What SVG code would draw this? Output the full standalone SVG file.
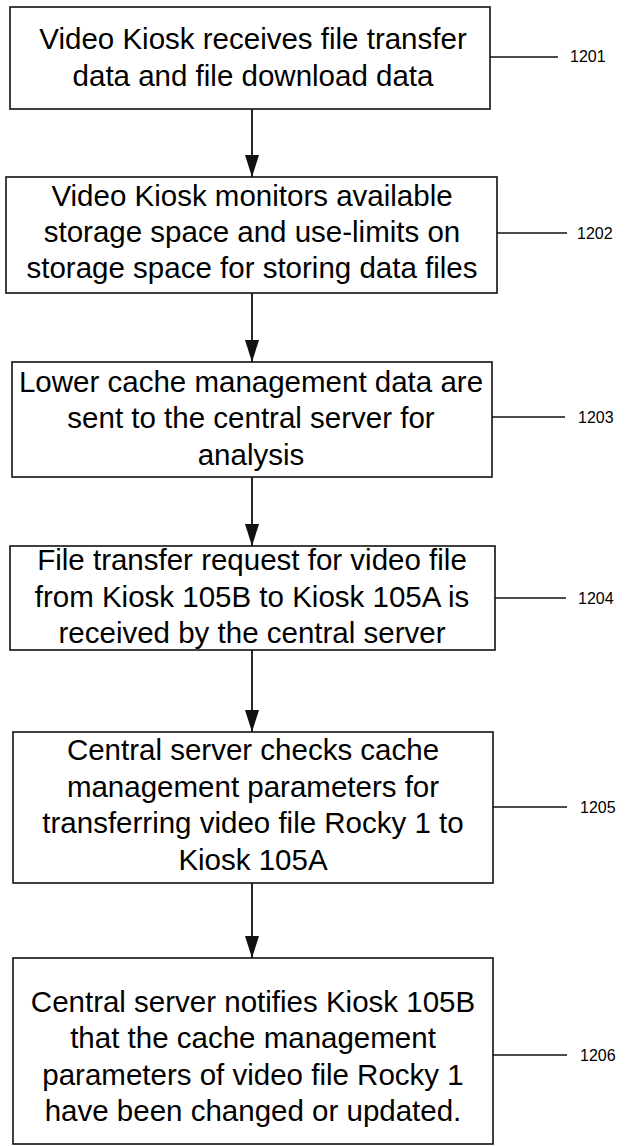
<svg xmlns="http://www.w3.org/2000/svg" width="627" height="1146" viewBox="0 0 627 1146">
<style>
.box{fill:#fff;stroke:#111;stroke-width:1.6}
.t{font-family:"Liberation Sans",Arial,sans-serif;font-size:29.5px;fill:#000;text-anchor:middle}
.lbl{font-family:"Liberation Sans",Arial,sans-serif;font-size:16px;fill:#000}
.ld{stroke:#111;stroke-width:1.4;fill:none}
.ar{stroke:#111;stroke-width:1.8;fill:none;marker-end:url(#ah)}
</style>
<defs>
<marker id="ah" markerUnits="userSpaceOnUse" markerWidth="22" markerHeight="14" refX="22" refY="7" orient="auto">
<path d="M0,0 L22,7 L0,14 z" fill="#111"/>
</marker>
</defs>
<rect width="627" height="1146" fill="#fff"/>
<g id="connectors">
<line class="ar" x1="252" y1="109" x2="252" y2="177"/>
<line class="ar" x1="252" y1="293" x2="252" y2="362"/>
<line class="ar" x1="252" y1="477" x2="252" y2="546"/>
<line class="ar" x1="252" y1="650" x2="252" y2="732"/>
<line class="ar" x1="252" y1="883" x2="252" y2="958"/>
<line class="ld" x1="490" y1="57" x2="558" y2="57"/>
<line class="ld" x1="497" y1="233" x2="567" y2="233"/>
<line class="ld" x1="492" y1="417" x2="565" y2="417"/>
<line class="ld" x1="495" y1="598" x2="566" y2="598"/>
<line class="ld" x1="493" y1="807" x2="567" y2="807"/>
<line class="ld" x1="493" y1="1055" x2="567" y2="1055"/>
</g>
<g id="n1201">
<rect class="box" x="10" y="7" width="480" height="102"/>
<text class="t" x="253" y="49">Video Kiosk receives file transfer</text>
<text class="t" x="253" y="86">data and file download data</text>
<text class="lbl" x="570" y="62">1201</text>
</g>
<g id="n1202">
<rect class="box" x="6" y="177" width="491" height="116"/>
<text class="t" x="252" y="206">Video Kiosk monitors available</text>
<text class="t" x="252" y="242">storage space and use-limits on</text>
<text class="t" x="252" y="278">storage space for storing data files</text>
<text class="lbl" x="577" y="239">1202</text>
</g>
<g id="n1203">
<rect class="box" x="12" y="362" width="480" height="115"/>
<text class="t" x="251" y="392">Lower cache management data are</text>
<text class="t" x="251" y="428">sent to the central server for</text>
<text class="t" x="251" y="465">analysis</text>
<text class="lbl" x="578" y="423">1203</text>
</g>
<g id="n1204">
<rect class="box" x="10" y="546" width="485" height="104"/>
<text class="t" x="252" y="570">File transfer request for video file</text>
<text class="t" x="252" y="607">from Kiosk 105B to Kiosk 105A is</text>
<text class="t" x="252" y="643">received by the central server</text>
<text class="lbl" x="578" y="604">1204</text>
</g>
<g id="n1205">
<rect class="box" x="13" y="732" width="480" height="151"/>
<text class="t" x="253" y="760">Central server checks cache</text>
<text class="t" x="253" y="797">management parameters for</text>
<text class="t" x="253" y="833">transferring video file Rocky 1 to</text>
<text class="t" x="253" y="870">Kiosk 105A</text>
<text class="lbl" x="580" y="813">1205</text>
</g>
<g id="n1206">
<rect class="box" x="13" y="958" width="480" height="186"/>
<text class="t" x="253" y="1012">Central server notifies Kiosk 105B</text>
<text class="t" x="253" y="1048">that the cache management</text>
<text class="t" x="253" y="1085">parameters of video file Rocky 1</text>
<text class="t" x="253" y="1121">have been changed or updated.</text>
<text class="lbl" x="580" y="1061">1206</text>
</g>
</svg>
